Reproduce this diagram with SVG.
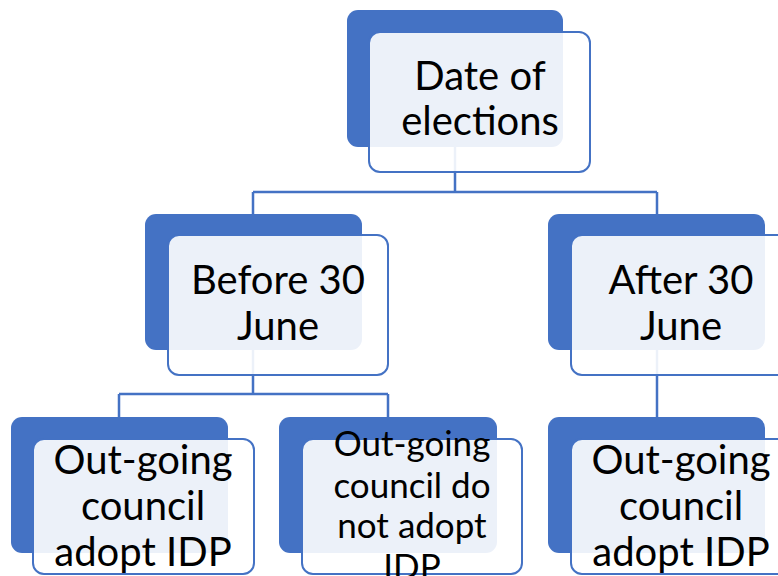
<svg xmlns="http://www.w3.org/2000/svg" width="778" height="576" viewBox="0 0 778 576">
  <style>
    .conn { fill: none; stroke: #4472C4; stroke-width: 2.5; }
    .back { fill: #4472C4; }
    .front { fill: #FFFFFF; fill-opacity: 0.9; stroke: #4472C4; stroke-width: 2; }
    .lbl { font-family: Lato, "Liberation Sans", sans-serif; fill: #000000; text-anchor: middle; }
    .big { font-size: 40px; }
    .small { font-size: 35px; }
  </style>
  <rect width="778" height="576" fill="#FFFFFF"/>

  <!-- connectors -->
  <g id="connectors">
    <path class="conn" d="M455 147 V192 M253 192 H657 M253 192 V214 M657 192 V214"/>
    <path class="conn" d="M253 350 V394 M119 394 H388 M119 394 V417 M388 394 V417"/>
    <path class="conn" d="M657 350 V417"/>
  </g>

  <!-- root -->
  <g id="node-date">
    <rect class="back" x="347" y="10" width="216" height="137" rx="11"/>
    <rect class="front" x="369" y="32" width="221" height="140" rx="11"/>
    <text class="lbl big" x="480" y="90">Date of</text>
    <text class="lbl big" x="480" y="135">elections</text>
  </g>

  <g id="node-before">
    <rect class="back" x="145" y="214" width="217" height="136" rx="11"/>
    <rect class="front" x="168" y="235" width="220" height="140" rx="11"/>
    <text class="lbl big" x="278" y="294">Before 30</text>
    <text class="lbl big" x="278" y="340">June</text>
  </g>

  <g id="node-after">
    <rect class="back" x="548" y="214" width="217" height="136" rx="11"/>
    <rect class="front" x="571" y="235" width="221" height="140" rx="11"/>
    <text class="lbl big" x="681" y="294">After 30</text>
    <text class="lbl big" x="681" y="340">June</text>
  </g>

  <g id="node-before-adopt">
    <rect class="back" x="11" y="417" width="217" height="136" rx="11"/>
    <rect class="front" x="33" y="439" width="221" height="135" rx="11"/>
    <text class="lbl big" x="143" y="474">Out-going</text>
    <text class="lbl big" x="143" y="520">council</text>
    <text class="lbl big" x="143" y="566">adopt IDP</text>
  </g>

  <g id="node-before-not-adopt">
    <rect class="back" x="279" y="417" width="218" height="136" rx="11"/>
    <rect class="front" x="302" y="439" width="220" height="135" rx="11"/>
    <text class="lbl small" x="412" y="456">Out-going</text>
    <text class="lbl small" x="412" y="498">council do</text>
    <text class="lbl small" x="412" y="538">not adopt</text>
    <text class="lbl small" x="412" y="579">IDP</text>
  </g>

  <g id="node-after-adopt">
    <rect class="back" x="548" y="417" width="217" height="136" rx="11"/>
    <rect class="front" x="571" y="439" width="221" height="135" rx="11"/>
    <text class="lbl big" x="681" y="474">Out-going</text>
    <text class="lbl big" x="681" y="520">council</text>
    <text class="lbl big" x="681" y="566">adopt IDP</text>
  </g>
</svg>
